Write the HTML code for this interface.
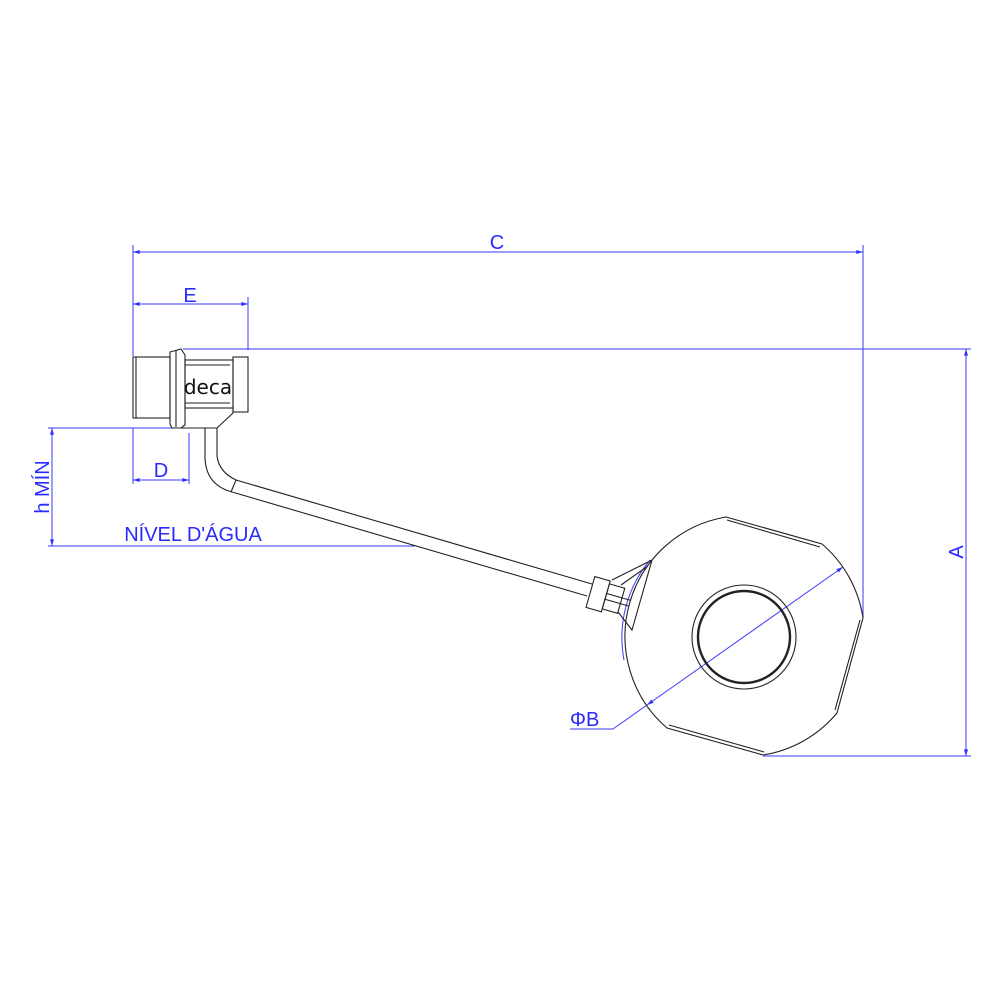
<!DOCTYPE html>
<html><head><meta charset="utf-8"><style>html,body{margin:0;padding:0;background:#fff}svg{display:block}</style></head>
<body>
<svg width="1000" height="1000" viewBox="0 0 1000 1000" xmlns="http://www.w3.org/2000/svg">
<defs>
<marker id="a" viewBox="0 0 10 6" refX="10" refY="3" markerWidth="7" markerHeight="4" orient="auto-start-reverse"><path d="M0,0L10,3L0,6z" fill="#3030ff"/></marker>
</defs>
<g stroke="#3a3aff" stroke-width="1" fill="none">
<line x1="133" y1="252" x2="863" y2="252" marker-start="url(#a)" marker-end="url(#a)"/>
<line x1="133" y1="245" x2="133" y2="356"/>
<line x1="863" y1="245" x2="863" y2="618"/>
<line x1="133" y1="304" x2="248" y2="304" marker-start="url(#a)" marker-end="url(#a)"/>
<line x1="248" y1="297" x2="248" y2="350"/>
<line x1="183" y1="349" x2="971" y2="349"/>
<line x1="966" y1="349" x2="966" y2="756" marker-start="url(#a)" marker-end="url(#a)"/>
<line x1="763" y1="756" x2="971" y2="756"/>
<line x1="52" y1="428" x2="52" y2="546" marker-start="url(#a)" marker-end="url(#a)"/>
<line x1="48" y1="428" x2="175" y2="428"/>
<line x1="48" y1="546" x2="415" y2="546"/>
<line x1="133" y1="480" x2="189" y2="480" marker-start="url(#a)" marker-end="url(#a)"/>
<line x1="189" y1="433" x2="189" y2="484"/>
<line x1="133" y1="428" x2="133" y2="484"/>
<line x1="647" y1="705" x2="843" y2="567" marker-start="url(#a)" marker-end="url(#a)"/>
<polyline points="613,729 647,705"/>
<line x1="570" y1="729" x2="613" y2="729"/>
<path d="M650,560 A121,121 0 0 0 624,660"/>
</g>
<g font-family="Liberation Sans, sans-serif" font-size="20" fill="#2a2aff">
<text x="497" y="249" text-anchor="middle">C</text>
<text x="190" y="302" text-anchor="middle">E</text>
<text x="161" y="477" text-anchor="middle">D</text>
<text x="193" y="541" text-anchor="middle">NÍVEL D'ÁGUA</text>
<text transform="translate(49,487) rotate(-90)" text-anchor="middle">h MÍN</text>
<text transform="translate(963,552) rotate(-90)" text-anchor="middle">A</text>
<text x="570" y="726">ΦB</text>
</g>
<g stroke="#222" stroke-width="1.1" fill="none">
<rect x="133" y="357" width="37" height="61"/>
<line x1="136" y1="357" x2="136" y2="418"/>
<path d="M170,352 L181,349 L185,355 L185,425 L181,428 L172,428 L170,424 Z"/>
<line x1="176" y1="350" x2="176" y2="427"/>
<rect x="185" y="360" width="48" height="48"/>
<line x1="185" y1="365" x2="230" y2="365"/>
<line x1="185" y1="403" x2="230" y2="403"/>
<rect x="233" y="357" width="15" height="55"/>
<path d="M172,428 L217,428 L233,413 L233,408"/>
<path d="M205,428 L205,458 Q206,485 232,492 L587,596"/>
<path d="M217,428 L217,456 Q219,472 236,480 L592,584"/>
<line x1="231" y1="492" x2="236" y2="480"/>
<g transform="translate(601,595) rotate(16)">
<rect x="-11" y="-16" width="16" height="32"/>
<rect x="5" y="-13" width="16" height="26"/>
<line x1="5" y1="-3" x2="30" y2="-3"/>
<line x1="5" y1="3" x2="30" y2="3"/>
</g>
<path d="M612,580 L652,560 L632,630 L618,612"/>
<path d="M621,585 L648,566"/>
<path d="M726,517 L822,544 A121,121 0 0 1 863,618 L837,713 A121,121 0 0 1 763,755 L667,728 A121,121 0 0 1 726,517 Z"/>
<path d="M727,520 L820,547 M860,620 L835,710 M764,752 L669,725"/>
<circle cx="744" cy="637" r="52"/>
<circle cx="744" cy="637" r="46" stroke-width="2.4"/>
</g>
<text x="208" y="394" font-family="DejaVu Sans, sans-serif" font-size="20" text-anchor="middle" fill="#111">deca</text>
</svg>
</body></html>
